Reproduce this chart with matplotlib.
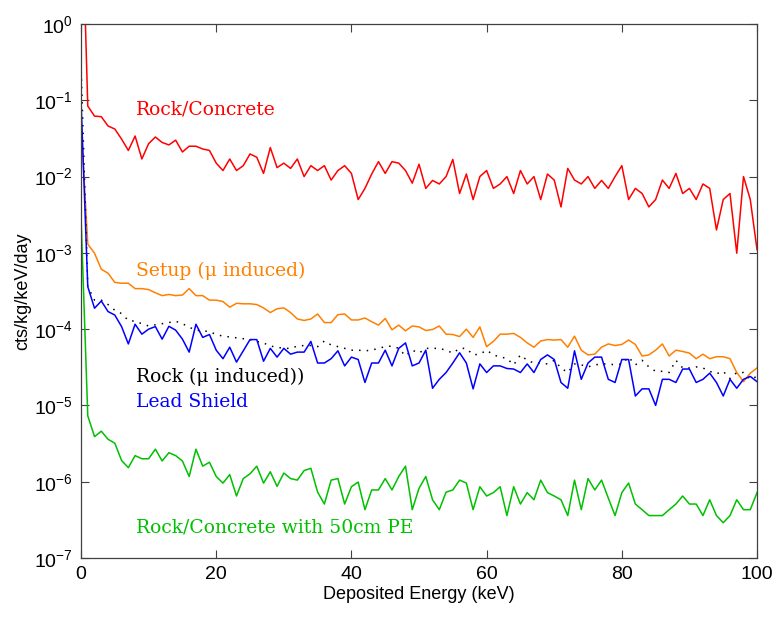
"""Background spectra: counts per kg/keV/day vs deposited energy."""

import matplotlib

matplotlib.use("Agg")
import matplotlib.pyplot as plt
import numpy as np

plt.rcParams["font.family"] = ["Liberation Sans", "DejaVu Sans"]
plt.rcParams["mathtext.default"] = "regular"

energy = np.arange(0, 101)

rock_concrete = [
    100, 0.084, 0.062, 0.061, 0.046, 0.042, 0.031, 0.022, 0.034, 0.017, 0.027,
    0.033, 0.028, 0.026, 0.030, 0.021, 0.025, 0.025, 0.023, 0.022, 0.015,
    0.012, 0.017, 0.012, 0.0139, 0.0198, 0.0179, 0.011, 0.024, 0.0131, 0.015,
    0.0128, 0.017, 0.0100, 0.0139, 0.012, 0.0139, 0.009, 0.012, 0.0139, 0.011,
    0.0050, 0.0070, 0.0108, 0.0157, 0.011, 0.0157, 0.015, 0.012, 0.0082, 0.0145,
    0.0070, 0.0089, 0.0080, 0.0100, 0.0168, 0.0060, 0.0108, 0.0050, 0.0100, 0.012,
    0.0070, 0.0080, 0.0100, 0.0060, 0.012, 0.0080, 0.0100, 0.0050, 0.0108, 0.009,
    0.0040, 0.0128, 0.009, 0.008, 0.010, 0.007, 0.0089, 0.007, 0.010, 0.0139,
    0.005, 0.007, 0.006, 0.004, 0.005, 0.009, 0.007, 0.011, 0.006, 0.007,
    0.005, 0.008, 0.007, 0.0020, 0.005, 0.006, 0.00099, 0.010, 0.005, 0.0011,
]

setup_mu = [
    0.05, 1.3e-3, 9.9e-4, 6.1e-4, 5.4e-4, 4.1e-4, 4.0e-4, 4.0e-4, 3.4e-4, 3.4e-4, 3.3e-4,
    3.0e-4, 2.75e-4, 2.85e-4, 2.75e-4, 2.8e-4, 3.4e-4, 2.75e-4, 2.75e-4, 2.4e-4, 2.4e-4,
    2.3e-4, 1.94e-4, 2.18e-4, 2.15e-4, 2.15e-4, 2.1e-4, 1.9e-4, 1.65e-4, 1.85e-4, 1.9e-4,
    1.65e-4, 1.36e-4, 1.3e-4, 1.36e-4, 1.58e-4, 1.22e-4, 1.22e-4, 1.55e-4, 1.58e-4, 1.32e-4,
    1.32e-4, 1.4e-4, 1.25e-4, 1.13e-4, 1.38e-4, 9.8e-5, 1.13e-4, 9.5e-5, 1.1e-4, 1.07e-4,
    9.6e-5, 9.9e-5, 1.1e-4, 8.6e-5, 8.5e-5, 8.0e-5, 1.0e-4, 7.8e-5, 1.07e-4, 5.9e-5,
    6.9e-5, 8.6e-5, 8.6e-5, 8.8e-5, 7.8e-5, 6.6e-5, 5.8e-5, 7.0e-5, 7.3e-5, 7.2e-5,
    7.3e-5, 5.8e-5, 8.1e-5, 5.3e-5, 4.6e-5, 4.7e-5, 5.8e-5, 6.4e-5, 6.1e-5, 6.3e-5,
    7.2e-5, 6.3e-5, 4.45e-5, 4.6e-5, 5.3e-5, 6.4e-5, 4.45e-5, 5.3e-5, 5.1e-5, 4.85e-5,
    4.1e-5, 4.7e-5, 4.1e-5, 4.35e-5, 4.35e-5, 4.1e-5, 2.7e-5, 2.05e-5, 2.65e-5, 3.1e-5,
]

rock_mu = [
    0.3, 3.6e-4, 2.4e-4, 2.4e-4, 2.1e-4, 1.77e-4, 1.6e-4, 1.3e-4, 1.27e-4, 1.18e-4, 1.1e-4,
    1.14e-4, 1.18e-4, 1.22e-4, 1.27e-4, 1.18e-4, 1.06e-4, 9.7e-5, 9.5e-5, 9.3e-5, 8.5e-5,
    8.1e-5, 7.9e-5, 7.7e-5, 7.5e-5, 7.3e-5, 6.9e-5, 6.6e-5, 6.0e-5, 5.8e-5, 5.6e-5,
    5.6e-5, 6.0e-5, 6.1e-5, 6.1e-5, 5.9e-5, 7.0e-5, 6.2e-5, 5.9e-5, 5.6e-5, 5.3e-5,
    5.3e-5, 5.2e-5, 5.3e-5, 5.6e-5, 5.9e-5, 6.0e-5, 5.6e-5, 4.45e-5, 5.3e-5, 4.85e-5,
    5.6e-5, 5.6e-5, 5.6e-5, 5.3e-5, 4.85e-5, 5.6e-5, 5.6e-5, 4.6e-5, 4.7e-5, 5.3e-5,
    4.6e-5, 4.3e-5, 4.15e-5, 3.4e-5, 4.6e-5, 3.9e-5, 3.6e-5, 3.6e-5, 3.5e-5, 3.9e-5,
    3.1e-5, 2.7e-5, 3.5e-5, 3.4e-5, 3.2e-5, 3.4e-5, 3.5e-5, 3.5e-5, 3.4e-5, 3.5e-5,
    4.3e-5, 3.4e-5, 3.9e-5, 3.2e-5, 2.8e-5, 2.8e-5, 2.7e-5, 3.9e-5, 3.1e-5, 3.1e-5,
    3.2e-5, 3.1e-5, 2.8e-5, 2.6e-5, 2.8e-5, 2.25e-5, 2.7e-5, 2.7e-5, 2.2e-5, 2.4e-5,
]

lead_shield = [
    0.1, 3.6e-4, 1.88e-4, 2.34e-4, 1.7e-4, 1.53e-4, 1.08e-4, 6.4e-5, 1.16e-4, 8.6e-5, 1.0e-4,
    1.08e-4, 7.4e-5, 1.09e-4, 9.7e-5, 7.4e-5, 5.0e-5, 1.16e-4, 7.8e-5, 8.5e-5, 5.3e-5,
    4.1e-5, 5.8e-5, 3.7e-5, 5.2e-5, 7.3e-5, 7.3e-5, 3.8e-5, 5.6e-5, 4.3e-5, 5.6e-5,
    4.7e-5, 5.0e-5, 5.0e-5, 6.9e-5, 3.6e-5, 3.6e-5, 4.1e-5, 5.2e-5, 3.3e-5, 4.3e-5,
    4.0e-5, 2.0e-5, 3.6e-5, 3.6e-5, 5.3e-5, 3.3e-5, 5.6e-5, 6.6e-5, 3.3e-5, 3.6e-5,
    5.3e-5, 1.68e-5, 2.2e-5, 2.7e-5, 3.6e-5, 4.9e-5, 3.6e-5, 1.65e-5, 3.5e-5, 2.7e-5,
    3.3e-5, 3.3e-5, 3.05e-5, 3.0e-5, 2.7e-5, 3.5e-5, 2.7e-5, 4.0e-5, 4.6e-5, 4.0e-5,
    2.0e-5, 1.68e-5, 5.2e-5, 2.2e-5, 3.6e-5, 4.3e-5, 4.3e-5, 2.2e-5, 2.0e-5, 4.0e-5,
    4.0e-5, 1.33e-5, 1.65e-5, 1.65e-5, 1.0e-5, 2.2e-5, 2.2e-5, 2.0e-5, 3.0e-5, 3.0e-5,
    2.0e-5, 2.2e-5, 2.65e-5, 2.0e-5, 1.33e-5, 2.2e-5, 1.68e-5, 2.2e-5, 2.4e-5, 2.05e-5,
]

rock_pe = [
    3e-3, 7.3e-6, 3.9e-6, 4.6e-6, 3.6e-6, 3.2e-6, 1.9e-6, 1.53e-6, 2.2e-6, 2.0e-6, 2.0e-6,
    2.67e-6, 1.87e-6, 2.4e-6, 2.2e-6, 1.87e-6, 1.17e-6, 2.67e-6, 1.6e-6, 1.8e-6, 1.17e-6,
    9.6e-7, 1.24e-6, 6.5e-7, 1.1e-6, 1.27e-6, 1.6e-6, 9.6e-7, 1.35e-6, 8.7e-7, 1.3e-6,
    1.1e-6, 1.05e-6, 1.4e-6, 1.5e-6, 7.3e-7, 5.1e-7, 1.05e-6, 1.1e-6, 5.1e-7, 8.6e-7,
    9.9e-7, 4.3e-7, 7.8e-7, 7.8e-7, 1.1e-6, 7.8e-7, 1.17e-6, 1.6e-6, 4.3e-7, 8.2e-7,
    1.17e-6, 5.8e-7, 4.3e-7, 7.3e-7, 7.8e-7, 1.05e-6, 9.6e-7, 4.3e-7, 8.6e-7, 6.5e-7,
    7.2e-7, 8.6e-7, 3.6e-7, 8.6e-7, 5.1e-7, 7.2e-7, 5.8e-7, 1.05e-6, 7.2e-7, 6.5e-7,
    5.8e-7, 3.6e-7, 1.05e-6, 4.3e-7, 1.1e-6, 7.8e-7, 1.05e-6, 6.1e-7, 3.6e-7, 7.2e-7,
    9.6e-7, 5.1e-7, 4.3e-7, 3.6e-7, 3.6e-7, 3.6e-7, 4.3e-7, 5.1e-7, 6.5e-7, 5.1e-7,
    5.1e-7, 3.6e-7, 5.8e-7, 3.6e-7, 2.9e-7, 3.6e-7, 5.8e-7, 4.3e-7, 4.3e-7, 7.2e-7,
]

# (text, x, y, colour) for the in-plot curve labels
labels = [
    ("Rock/Concrete", 8.1, 6.6e-2, "#ff0000"),
    ("Setup (\u03bc induced)", 8.1, 5.0e-4, "#ff8000"),
    ("Rock (\u03bc induced))", 8.1, 2.05e-5, "#000000"),
    ("Lead Shield", 8.1, 9.6e-6, "#0000ff"),
    ("Rock/Concrete with 50cm PE", 8.1, 2.15e-7, "#00c000"),
]

fig = plt.figure(figsize=(7.79, 6.17), dpi=100)
ax = fig.add_axes([0.104, 0.0956, 0.8678, 0.8655])

ax.plot(energy, rock_concrete, color="#ff0000", lw=1.1)
ax.plot(energy, setup_mu, color="#ff8000", lw=1.1)
ax.plot(energy, rock_mu, color="black", lw=1.1, linestyle=(0, (1, 4)))
ax.plot(energy, lead_shield, color="#0000ff", lw=1.1)
ax.plot(energy, rock_pe, color="#00c000", lw=1.1)

for text, x, y, color in labels:
    ax.text(x, y, text, color=color, fontsize=13.5, family="DejaVu Serif",
            va="baseline", ha="left")

ax.set_yscale("log")
ax.set_xlim(0, 100)
ax.set_ylim(1e-7, 1)
ax.set_xticks(np.arange(0, 101, 20))
ax.set_yticks([10.0 ** k for k in range(-7, 1)])
ax.yaxis.set_minor_locator(matplotlib.ticker.NullLocator())
ax.tick_params(which="both", direction="in", top=True, right=True,
               length=6, width=0.8, color="#404040", labelsize=14, pad=6)
for spine in ax.spines.values():
    spine.set_color("#404040")
    spine.set_linewidth(0.9)

ax.set_xlabel("Deposited Energy (keV)", fontsize=13, labelpad=2)
ax.set_ylabel("cts/kg/keV/day", fontsize=13, labelpad=2)

fig.savefig("out.png", dpi=100)
